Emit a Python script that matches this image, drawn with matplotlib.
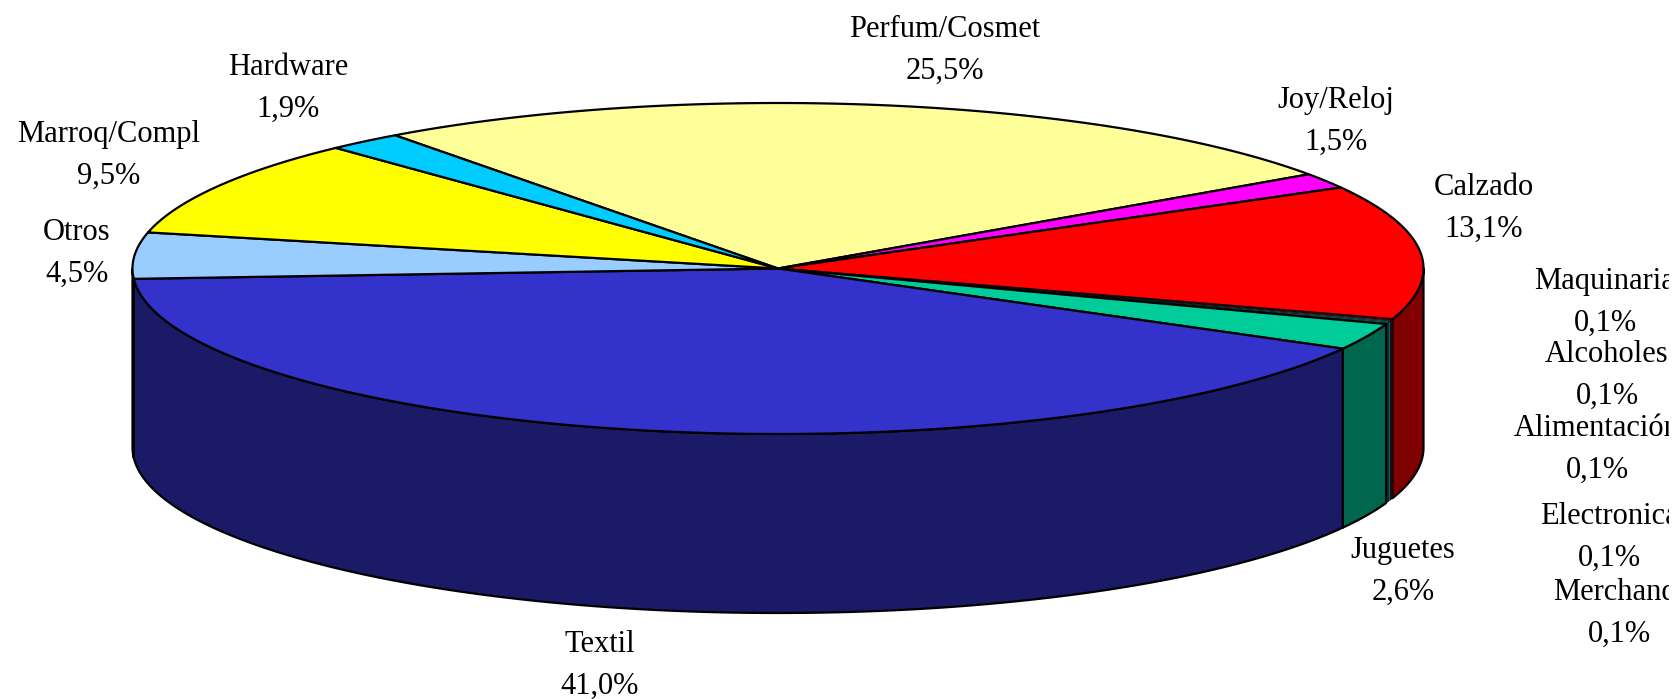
import numpy as np
import matplotlib
matplotlib.use("Agg")
import matplotlib.pyplot as plt
from matplotlib.patches import Rectangle

plt.rcParams['font.family'] = ['Liberation Serif', 'DejaVu Serif']

# Datos del gráfico
names = ['Perfum/Cosmet', 'Joy/Reloj', 'Calzado', 'Maquinaria', 'Alcoholes',
         'Alimentación', 'Electronica', 'Merchandi', 'Juguetes', 'Textil',
         'Otros', 'Marroq/Compl', 'Hardware']
values = [25.5, 1.5, 13.1, 0.1, 0.1, 0.1, 0.1, 0.1, 2.6, 41.0, 4.5, 9.5, 1.9]
top_colors = ['#FFFF99', '#FF00FF', '#FF0000', '#CC0000', '#993366', '#00CCCC',
              '#00CCCC', '#00CCCC', '#00CC99', '#3333CC', '#99CCFF', '#FFFF00', '#00CCFF']
side_colors = ['#808050', '#800080', '#800000', '#A00000', '#4D1A33', '#008080',
               '#008080', '#008080', '#00664D', '#1A1A66', '#4D6680', '#808000', '#006680']
label_xy = [(945, 50), (1336, 121), (1484, 208), (1605, 302), (1607, 375),
            (1597, 449), (1609, 537), (1619, 613), (1403, 571), (600, 665),
            (77, 253), (109, 155), (288, 88)]

# Geometría de la elipse, en píxeles
cx, cy = 778, 268.5
a, b = 645.5, 165.5
depth = 179
start = -36.4


def ellipse(ang):
    # ángulo en grados, horario desde arriba
    t = np.radians(ang)
    return cx + a * np.sin(t), cy - b * np.cos(t)


fig = plt.figure(figsize=(16.74, 6.99), dpi=100)
ax = fig.add_axes([0, 0, 1, 1])
ax.set_xlim(0, 1674)
ax.set_ylim(699, 0)
ax.axis('off')

edges = start + np.cumsum([0] + values) / sum(values) * 360

# Las porciones muy finas llevan un borde más delgado
def line_width(v):
    return 0.4 if v < 1 else 1.6


# Paredes laterales (solo la mitad frontal)
for i in range(len(values)):
    for shift in (0, 360):
        lo = max(edges[i] + shift, 90)
        hi = min(edges[i + 1] + shift, 270)
        if hi <= lo:
            continue
        ang = np.linspace(lo, hi, 200)
        x, y = ellipse(ang)
        ax.fill(np.r_[x, x[::-1]], np.r_[y, y[::-1] + depth], facecolor=side_colors[i],
                edgecolor='black', linewidth=line_width(values[i]), joinstyle='round')

# Tapa superior
for i in range(len(values)):
    ang = np.linspace(edges[i], edges[i + 1], 300)
    x, y = ellipse(ang)
    ax.fill(np.r_[cx, x], np.r_[cy, y], facecolor=top_colors[i],
            edgecolor='black', linewidth=line_width(values[i]), joinstyle='round')

# Etiquetas, recortadas en el borde derecho como en el original
clip = Rectangle((0, 0), 1669, 699, transform=ax.transData)
for name, val, (lx, ly) in zip(names, values, label_xy):
    pct = f'{val:.1f}'.replace('.', ',') + '%'
    t = ax.text(lx, ly, f'{name}\n{pct}', ha='center', va='center', fontsize=22,
                linespacing=1.58, color='black', clip_on=True)
    t.set_clip_path(clip)

fig.savefig('out.png', dpi=100)
